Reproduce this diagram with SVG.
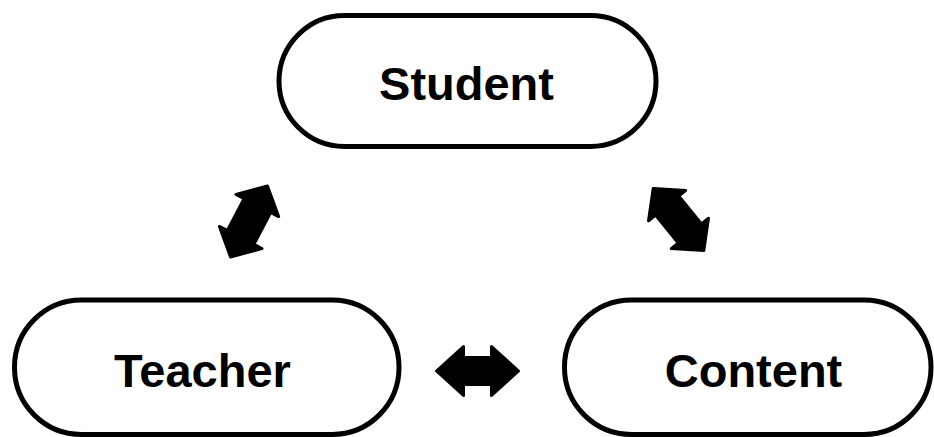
<svg xmlns="http://www.w3.org/2000/svg" width="934" height="437" viewBox="0 0 934 437">
<defs>
<style>
.box{fill:#fff;stroke:#000;stroke-width:5}
.lbl{font-family:"Liberation Sans",Arial,sans-serif;font-weight:bold;font-size:47px;fill:#000;text-anchor:middle}
.arr{fill:#000;stroke:#000;stroke-width:3;stroke-linejoin:round}
</style>
<path id="dbl" d="M -41,0 L -14,-24.5 L -14,-13.5 L 14,-13.5 L 14,-24.5 L 41,0 L 14,24.5 L 14,13.5 L -14,13.5 L -14,24.5 Z"/>
<path id="dbl2" d="M -40,0 L -18,-24 L -18,-15 L 18,-15 L 18,-24 L 40,0 L 18,24 L 18,15 L -18,15 L -18,24 Z"/>
</defs>
<rect width="934" height="437" fill="#fff"/>
<g id="connectors">
<use href="#dbl2" class="arr" transform="translate(249,221.5) rotate(-62.5)"/>
<use href="#dbl2" class="arr" transform="translate(678.5,219.5) rotate(50.8)"/>
<use href="#dbl" class="arr" transform="translate(477.5,371)"/>
</g>
<g id="student">
<rect class="box" x="279" y="15.5" width="377" height="131" rx="65.5"/>
<text class="lbl" x="466.5" y="100">Student</text>
</g>
<g id="teacher">
<rect class="box" x="14.5" y="300" width="384.5" height="134.5" rx="67"/>
<text class="lbl" x="202.5" y="387">Teacher</text>
</g>
<g id="content">
<rect class="box" x="564.5" y="300" width="366.5" height="134.5" rx="67"/>
<text class="lbl" x="753.5" y="387">Content</text>
</g>
</svg>
